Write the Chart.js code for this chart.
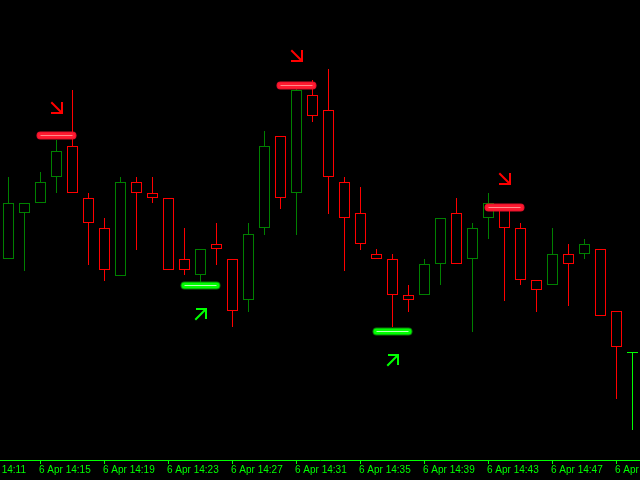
<!DOCTYPE html>
<html>
<head>
<meta charset="utf-8">
<script src="https://cdn.jsdelivr.net/npm/chart.js@4.4.1/dist/chart.umd.min.js"></script>
<style>
  html, body { margin: 0; padding: 0; background: #000; }
  #wrap { width: 640px; height: 480px; }
</style>
</head>
<body>
<div id="wrap"><canvas id="chart"></canvas></div>
<script>
// M1 candles, 6 Apr 14:13 .. 14:52 (price axis is hidden on the original)
const opens  = [741, 787, 797, 823, 854, 802, 772, 724, 818, 807, 802, 741, 725, 756, 741, 700, 772, 864, 807, 905,
                890, 818, 787, 746, 741, 705, 705, 736, 787, 741, 782, 791, 772, 720, 715, 746, 746, 751, 689, 648];
const highs  = [823, 797, 828, 860, 910, 807, 782, 823, 823, 823, 802, 772, 751, 777, 741, 777, 869, 864, 912, 920,
                931, 823, 813, 751, 746, 715, 741, 782, 802, 777, 807, 795, 777, 720, 772, 756, 761, 751, 689, 648];
const lows   = [741, 729, 797, 807, 807, 735, 719, 724, 750, 797, 730, 725, 718, 735, 673, 688, 765, 791, 765, 878,
                786, 729, 750, 741, 673, 688, 705, 715, 736, 668, 761, 699, 715, 688, 715, 694, 741, 684, 601, 570];
const closes = [797, 797, 818, 849, 807, 777, 730, 818, 807, 802, 730, 730, 751, 751, 689, 766, 854, 802, 910, 884,
                823, 782, 756, 741, 705, 700, 736, 782, 736, 772, 797, 772, 720, 710, 746, 736, 756, 684, 653, 648];

// time axis
const tickPos = [-2, 2, 6, 10, 14, 18, 22, 26, 30, 34, 38];
const tickLabels = ['6 Apr 14:11', '6 Apr 14:15', '6 Apr 14:19', '6 Apr 14:23', '6 Apr 14:27', '6 Apr 14:31',
                    '6 Apr 14:35', '6 Apr 14:39', '6 Apr 14:43', '6 Apr 14:47', '6 Apr 14:51'];

// indicator signals
const sellIdx = [3, 18, 31];
const sellLevel = [864.5, 914.5, 792.5];
const sellArrow = [892, 944, 821];
const buyIdx = [12, 24];
const buyLevel = [714.5, 668.5];
const buyArrow = [686, 640];

const BULL = '#008000';
const BEAR = '#ff0000';
const DOJI = '#00ff00';

function candleColor(i) {
    if (opens[i] === closes[i]) return DOJI;
    return closes[i] > opens[i] ? BULL : BEAR;
}

function makeArrow(color, down) {
    const c = document.createElement('canvas');
    c.width = 13;
    c.height = 14;
    const g = c.getContext('2d');
    g.strokeStyle = color;
    g.lineWidth = 2;
    g.lineCap = 'square';
    g.lineJoin = 'miter';
    g.beginPath();
    if (down) {
        g.moveTo(2, 2); g.lineTo(11, 11);
        g.moveTo(2, 12); g.lineTo(12, 12); g.lineTo(12, 2);
    } else {
        g.moveTo(2, 12); g.lineTo(11, 3);
        g.moveTo(3, 2); g.lineTo(12, 2); g.lineTo(12, 11);
    }
    g.stroke();
    return c;
}

const wicks = opens.map((o, i) => ({ x: i, y: [lows[i], highs[i]] }));
const bodies = opens.map((o, i) => {
    const lo = Math.min(o, closes[i]);
    const hi = Math.max(o, closes[i]);
    return { x: i, y: [lo === hi ? hi - 1 : lo, hi] };
});
const colors = opens.map((o, i) => candleColor(i));

// glowing level bars: outer halo, fill, bright core
function levelDatasets(idx, level, outer, fill, core) {
    const out = [];
    idx.forEach((c, k) => {
        const pts = [{ x: c - 1, y: level[k] }, { x: c + 1, y: level[k] }];
        out.push({ type: 'line', data: pts, borderColor: outer, borderWidth: 8, borderCapStyle: 'round', pointRadius: 0, order: 3 });
        out.push({ type: 'line', data: pts, borderColor: fill, borderWidth: 6, borderCapStyle: 'round', pointRadius: 0, order: 2 });
        out.push({ type: 'line', data: pts, borderColor: core, borderWidth: 1, pointRadius: 0, order: 1 });
    });
    return out;
}

const datasets = [
    {
        data: wicks,
        backgroundColor: colors,
        borderWidth: 0,
        barThickness: 1,
        grouped: false,
        inflateAmount: 0,
        order: 5
    },
    {
        data: bodies,
        backgroundColor: '#000000',
        borderColor: colors,
        borderWidth: 1,
        borderSkipped: false,
        barThickness: 11,
        grouped: false,
        inflateAmount: 0,
        order: 4
    },
    ...levelDatasets(sellIdx, sellLevel, '#e0102a', '#ff1a30', '#ff8c8c'),
    ...levelDatasets(buyIdx, buyLevel, '#0a7a0a', '#00ff00', '#b8ffb8'),
    {
        type: 'line',
        showLine: false,
        data: sellIdx.map((c, k) => ({ x: c, y: sellArrow[k] })),
        pointStyle: makeArrow('#ff0000', true),
        pointRadius: 7,
        order: 0
    },
    {
        type: 'line',
        showLine: false,
        data: buyIdx.map((c, k) => ({ x: c, y: buyArrow[k] })),
        pointStyle: makeArrow('#00ff00', false),
        pointRadius: 7,
        order: 0
    }
];

new Chart(document.getElementById('chart'), {
    type: 'bar',
    data: { datasets },
    options: {
        responsive: true,
        maintainAspectRatio: false,
        animation: false,
        layout: { padding: 0, autoPadding: false },
        plugins: {
            legend: { display: false },
            tooltip: { enabled: false }
        },
        scales: {
            x: {
                type: 'linear',
                min: -0.53125,
                max: 39.46875,
                bounds: 'data',
                offset: false,
                afterBuildTicks: (scale) => {
                    scale.ticks = tickPos.map(v => ({ value: v }));
                },
                afterFit: (scale) => {
                    scale.height = 20;
                    scale.paddingLeft = 0;
                    scale.paddingRight = 0;
                },
                grid: {
                    offset: false,
                    drawOnChartArea: false,
                    drawTicks: true,
                    tickLength: 4,
                    color: '#00ff00',
                    lineWidth: 1
                },
                border: { display: true, color: '#00ff00', width: 1 },
                ticks: {
                    align: 'start',
                    autoSkip: false,
                    maxRotation: 0,
                    padding: 0,
                    labelOffset: -1.5,
                    color: '#00ff00',
                    font: { family: 'Liberation Sans', size: 10 },
                    callback: (value, index) => tickLabels[index]
                }
            },
            y: {
                display: false,
                min: 540,
                max: 1000
            }
        }
    }
});
</script>
</body>
</html>
